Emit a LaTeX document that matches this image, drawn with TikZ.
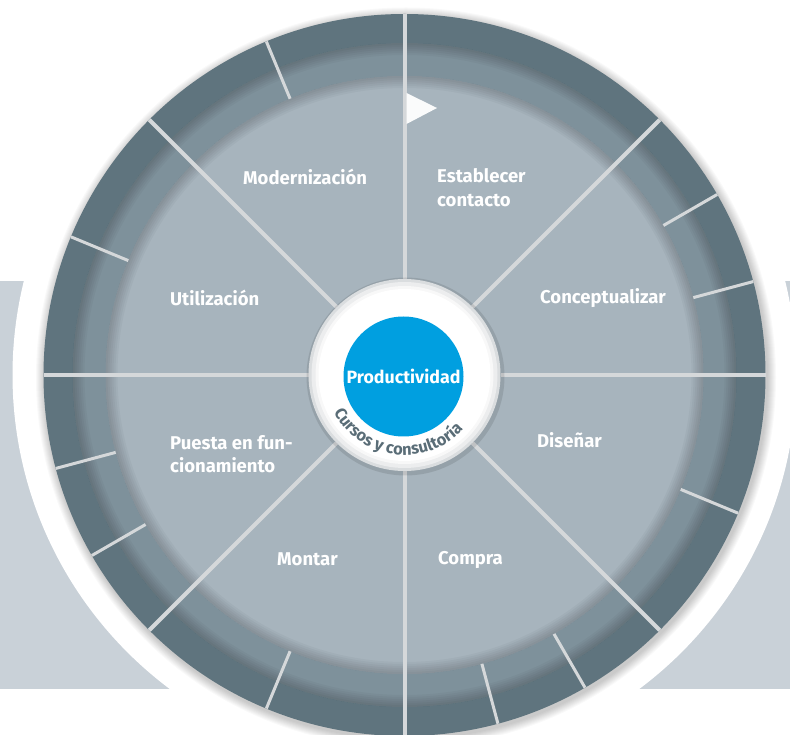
\documentclass[tikz,border=0pt]{standalone}
\usepackage{fontspec}
\setmainfont{Fira Sans}
\usetikzlibrary{decorations.text}
\definecolor{bgband}{HTML}{C9D1D8}
\definecolor{ringdark}{HTML}{5F747E}
\definecolor{ringmid}{HTML}{7E919B}
\definecolor{segfill}{HTML}{A7B4BD}
\definecolor{spokecol}{HTML}{D5D8DA}
\definecolor{prodblue}{HTML}{009FE0}
\definecolor{curvtext}{HTML}{5A6D77}
\definecolor{hubedge}{HTML}{DADDDF}
\definecolor{hubmid}{HTML}{ECEDEE}
\definecolor{hubin}{HTML}{F8F8F8}
\begin{document}
\begin{tikzpicture}[x=1pt,y=1pt,
  lbl/.style={text=white, font=\fontsize{18.5}{24}\selectfont\bfseries, inner sep=0pt, anchor=base west},
  spk/.style={draw=spokecol, line width=4pt},
  ringtick/.style={draw=spokecol, line width=3pt},
  innershade/.style={black, opacity=0.03, even odd rule}
]
\useasboundingbox (0,0) rectangle (790,734);
\coordinate (c) at (404.5,359);
% background band and white halo
\fill[bgband] (0,45) rectangle (790,453);
\fill[white] (c) circle[radius=392];
% soft drop shadow
\foreach \k in {1,...,9}{
  \fill[black, opacity=0.022] ([shift={(1.5,-2.5)}]c) circle[radius=361+\k];
}
% rings
\fill[ringdark] (c) circle[radius=361];
\fill[ringmid] (c) circle[radius=332];
\foreach \k in {1,...,6}{
  \fill[innershade] (c) circle[radius=332] (c) circle[radius=332-2*\k];
}
\fill[segfill] (c) circle[radius=299];
\foreach \k in {1,...,6}{
  \fill[innershade] (c) circle[radius=299] (c) circle[radius=299-2*\k];
}
% spokes
\foreach \a in {0,45,...,315}{
  \draw[spk] ([shift={(\a:96)}]c) -- ([shift={(\a:361)}]c);
}
% ring ticks
\foreach \a in {15,30,112.5,157.5,195,210,247.5,285,300,337.5}{
  \draw[ringtick] ([shift={(\a:299)}]c) -- ([shift={(\a:361)}]c);
}
% start flag
\fill[white, opacity=0.95] (406.5,641) -- (437,626) -- (406.5,610) -- cycle;
% hub
\fill[black, opacity=0.10] ([shift={(1,-1.5)}]c) circle[radius=99];
\fill[hubedge] (c) circle[radius=96];
\fill[hubmid] (c) circle[radius=93];
\fill[hubin] (c) circle[radius=89];
\fill[white] (c) circle[radius=86];
\node[circle, fill=prodblue, minimum size=120pt, inner sep=0pt, text=white,
      font=\fontsize{17.8}{20}\selectfont\bfseries] (prod) at (403.5,357.5) {Productividad};
\path[decorate, decoration={text along path,
      text={|\fontsize{16.5}{16.5}\selectfont\bfseries|Cursos y consultoría},
      text color=curvtext, text align=center}]
  ([shift={(185:80)}]c) arc[start angle=185, end angle=340, radius=80];
% labels
\node[lbl] (modern) at (243,549) {Modernización};
\node[lbl] (estab1) at (437,551.7) {Establecer};
\node[lbl] (estab2) at (437,527.7) {contacto};
\node[lbl] (concep) at (540,430) {Conceptualizar};
\node[lbl] (utiliz) at (170,428.5) {Utilización};
\node[lbl] (puesta1) at (170,284.7) {Puesta en fun-};
\node[lbl] (puesta2) at (170,261.3) {cionamiento};
\node[lbl] (disen) at (537,286.5) {Diseñar};
\node[lbl] (montar) at (277,168.5) {Montar};
\node[lbl] (compra) at (438,169) {Compra};
\end{tikzpicture}
\end{document}
